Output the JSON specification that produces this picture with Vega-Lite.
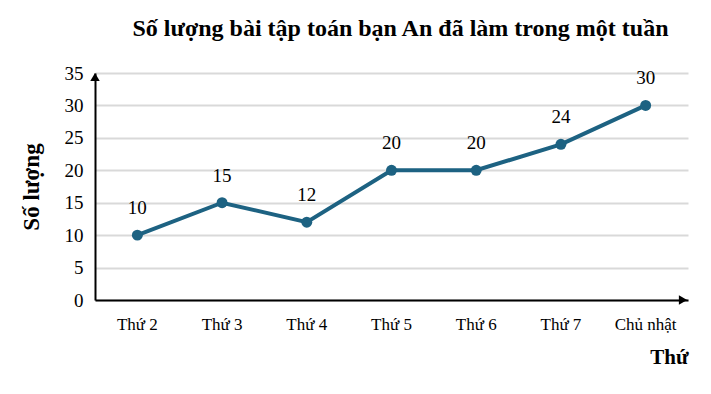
{
  "$schema": "https://vega.github.io/schema/vega-lite/v6.json",
  "width": 593,
  "height": 227,
  "autosize": {"type": "none"},
  "padding": {"left": 95, "top": 73, "right": 23, "bottom": 94},
  "background": "white",
  "title": {
    "text": "Số lượng bài tập toán bạn An đã làm trong một tuần",
    "font": "'Liberation Serif', 'Times New Roman', serif",
    "fontSize": 24,
    "fontWeight": "bold",
    "color": "black",
    "anchor": "middle",
    "dx": 9,
    "offset": 23
  },
  "config": {
    "view": {"stroke": null},
    "font": "'Liberation Serif', 'Times New Roman', serif"
  },
  "datasets": {
    "main": [
      {"day": "Thứ 2", "count": 10},
      {"day": "Thứ 3", "count": 15},
      {"day": "Thứ 4", "count": 12},
      {"day": "Thứ 5", "count": 20},
      {"day": "Thứ 6", "count": 20},
      {"day": "Thứ 7", "count": 24},
      {"day": "Chủ nhật", "count": 30}
    ]
  },
  "encoding": {
    "x": {
      "field": "day", "type": "ordinal", "sort": null,
      "scale": {"type": "band", "paddingInner": 0, "paddingOuter": 0},
      "axis": {
        "title": "Thứ",
        "titleFont": "'Liberation Serif', 'Times New Roman', serif",
        "titleFontSize": 21,
        "titleFontWeight": "bold",
        "titleColor": "black",
        "titleAnchor": "end",
        "titleAlign": "right",
        "titleBaseline": "alphabetic",
        "titleX": 593,
        "titleY": 63,
        "labelAngle": 0,
        "labelFont": "'Liberation Serif', 'Times New Roman', serif",
        "labelFontSize": 17,
        "labelColor": "black",
        "labelPadding": 16,
        "ticks": false,
        "domainColor": "black",
        "domainWidth": 2,
        "grid": false
      }
    },
    "y": {
      "field": "count", "type": "quantitative",
      "scale": {"domain": [0, 35]},
      "axis": {
        "title": "Số lượng",
        "titleFont": "'Liberation Serif', 'Times New Roman', serif",
        "titleFontSize": 23,
        "titleFontWeight": "bold",
        "titleColor": "black",
        "titlePadding": 21,
        "values": [0, 5, 10, 15, 20, 25, 30, 35],
        "labelOverlap": false,
        "labelFont": "'Liberation Serif', 'Times New Roman', serif",
        "labelFontSize": 19,
        "labelColor": "black",
        "labelPadding": 12,
        "ticks": false,
        "domainColor": "black",
        "domainWidth": 2,
        "gridColor": "#d9d9d9",
        "gridWidth": 2
      }
    }
  },
  "layer": [
    {
      "data": {"name": "main"},
      "mark": {"type": "line", "color": "#1d6282", "strokeWidth": 4, "point": {"filled": true, "size": 120, "color": "#1d6282"}}
    },
    {
      "data": {"name": "main"},
      "mark": {"type": "text", "font": "'Liberation Serif', 'Times New Roman', serif", "fontSize": 19, "color": "black", "baseline": "alphabetic", "dy": -21},
      "encoding": {
        "text": {"field": "count", "type": "quantitative"}
      }
    },
    {
      "data": {"values": [{"day": "Thứ 2", "count": 35, "shape": "triangle-up"}]},
      "mark": {"type": "point", "filled": true, "color": "black", "size": 90, "opacity": 1, "yOffset": 4},
      "encoding": {
        "x": {"field": "day", "type": "ordinal", "sort": null, "bandPosition": 0},
        "shape": {"field": "shape", "type": "nominal", "scale": null}
      }
    },
    {
      "data": {"values": [{"day": "Chủ nhật", "count": 0, "shape": "triangle-right"}]},
      "mark": {"type": "point", "filled": true, "color": "black", "size": 90, "opacity": 1, "xOffset": -5},
      "encoding": {
        "x": {"field": "day", "type": "ordinal", "sort": null, "bandPosition": 1},
        "shape": {"field": "shape", "type": "nominal", "scale": null}
      }
    }
  ]
}
